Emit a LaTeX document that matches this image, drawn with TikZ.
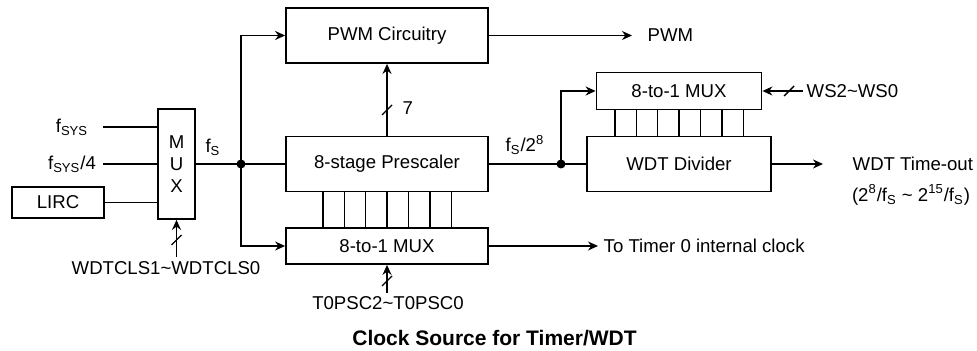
\documentclass[tikz,border=0pt]{standalone}
\usepackage{fontspec}
\setmainfont{Liberation Sans}
\usetikzlibrary{arrows.meta,positioning}

\begin{document}
\begin{tikzpicture}[x=0.5pt,y=-0.5pt,
  font=\fontsize{9.3}{11}\selectfont,
  line width=0.7pt,
  block/.style={draw,line width=0.9pt,inner sep=0pt,minimum height=27.5pt},
  sig/.style={-{Stealth[length=5pt,width=4.5pt]}},
  lbl/.style={inner sep=1pt},
  dot/.style={circle,fill,inner sep=0pt,minimum size=4.5pt},
  busmark/.style={line width=0.7pt}]

  \useasboundingbox (0,0) rectangle (977,351);

  % blocks
  \node[block,minimum width=46pt,minimum height=15.5pt] (lirc) at (58,202.5) {LIRC};
  \node[block,minimum width=18.5pt,minimum height=55pt,align=center] (mux) at (176.5,164) {M\\U\\X};
  \node[block,minimum width=101pt] (pwm) at (387,35.5) {PWM Circuitry};
  \node[block,minimum width=101pt] (presc) at (387,164) {8-stage Prescaler};
  \node[block,minimum width=101pt,minimum height=18pt] (tmux) at (387,246) {8-to-1 MUX};
  \node[block,minimum width=82.5pt,minimum height=18.5pt] (wmux) at (679,91) {8-to-1 MUX};
  \node[block,minimum width=92pt] (wdt) at (679,164) {WDT Divider};

  % clock inputs
  \coordinate (sys) at (103,127);
  \coordinate (sysq) at (103,164);
  \node (fsys) at (72,127) {f\textsubscript{SYS}};
  \node (fsysq) at (72,164) {f\textsubscript{SYS}/4};
  \draw (sys) -- (sys -| mux.west);
  \draw (sysq) -- (sysq -| mux.west);
  \draw (lirc.east) -- (lirc.east -| mux.west);

  % fS
  \coordinate (fs) at (241,164);
  \draw (mux.east) -- (presc.west);
  \node[dot] at (fs) {};
  \node[lbl] at (213,147) {f\textsubscript{S}};
  \draw[sig] (fs) |- (pwm.west);
  \draw[sig] (fs) |- (tmux.west);

  % MUX select
  \coordinate (wcls) at (176.5,257);
  \draw[sig] (wcls) -- (mux.south);
  \draw[busmark] (176.5,240) +(-5,5) -- +(5,-5);
  \node[lbl] at (166,268) {WDTCLS1\textasciitilde WDTCLS0};

  % prescaler to PWM
  \draw[sig] (presc.north) -- (pwm.south);
  \draw[busmark] (387,110) +(-5,5) -- +(5,-5);
  \node[lbl,anchor=west] at (400,108) {7};
  \coordinate (pwmend) at (632,35.5);
  \draw[sig] (pwm.east) -- (pwmend);
  \node[lbl,right=6.5pt of pwmend] {PWM};

  % taps
  \foreach \k in {-3,...,3}{
    \draw ([xshift=\k*10.7pt]presc.south) -- ([xshift=\k*10.7pt]tmux.north);
    \draw ([xshift=\k*10.7pt]wmux.south) -- ([xshift=\k*10.7pt]wdt.north);
  }

  % timer 0
  \coordinate (tmrend) at (598,246);
  \draw[sig] (tmux.east) -- (tmrend);
  \node[lbl,right=1.5pt of tmrend] {To Timer 0 internal clock};
  \coordinate (tsel) at (387,293);
  \draw[sig] (tsel) -- (tmux.south);
  \draw[busmark] (387,281) +(-5,5) -- +(5,-5);
  \node[lbl] at (388,303) {T0PSC2\textasciitilde T0PSC0};

  % WDT
  \coordinate (fs8) at (561,164);
  \draw (presc.east) -- (wdt.west);
  \node[dot] at (fs8) {};
  \node[lbl] at (525,145) {f\textsubscript{S}/2\textsuperscript{8}};
  \draw[sig] (fs8) |- (wmux.west);
  \coordinate (wsin) at (803,91);
  \draw[sig] (wsin) -- (wmux.east);
  \draw[busmark] (789,91) +(-5,5) -- +(5,-5);
  \node[lbl,right=0.5pt of wsin] {WS2\textasciitilde WS0};
  \coordinate (wdtend) at (823,164);
  \draw[sig] (wdt.east) -- (wdtend);
  \node[lbl,right=13.5pt of wdtend] (wdtout) {WDT Time-out};
  \node[lbl] (wdtrange) at (911,195) {(2\textsuperscript{8}/f\textsubscript{S} \textasciitilde{} 2\textsuperscript{15}/f\textsubscript{S})};

  % caption
  \node[font=\fontsize{10.5}{12}\selectfont\bfseries] (title) at (494.5,338) {Clock Source for Timer/WDT};
\end{tikzpicture}
\end{document}
